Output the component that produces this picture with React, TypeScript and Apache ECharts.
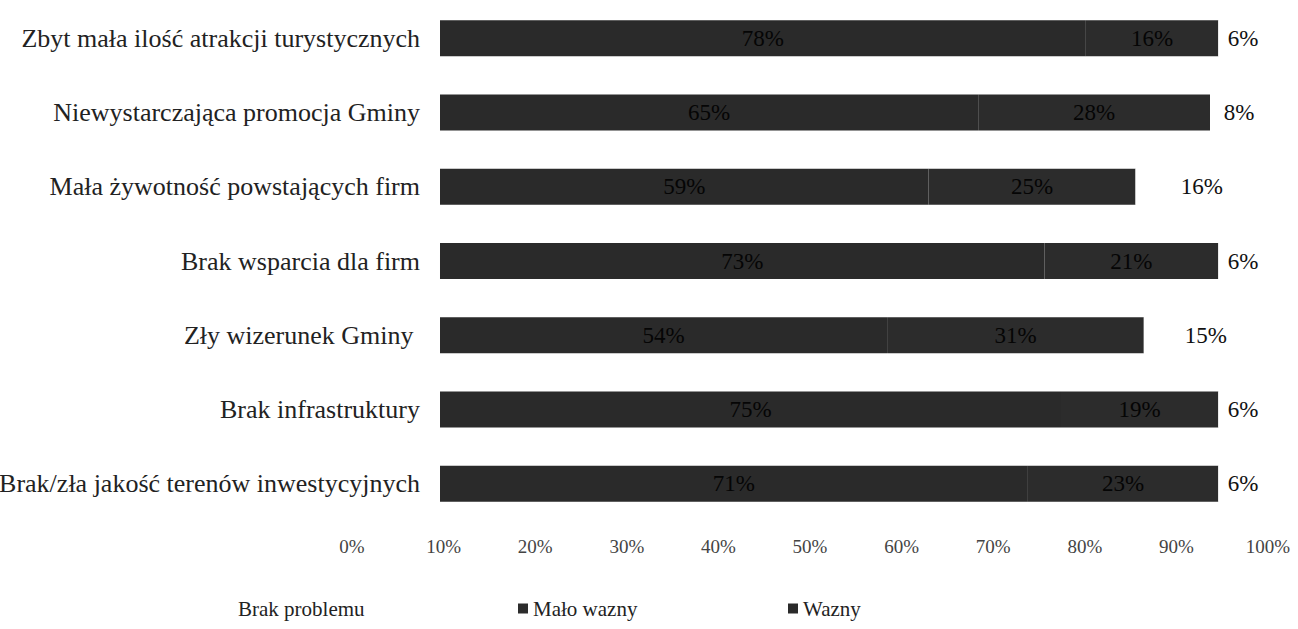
import React, { useEffect, useRef } from "react";
import * as echarts from "echarts";

const categories = [
  "Zbyt mała ilość atrakcji turystycznych",
  "Niewystarczająca promocja Gminy",
  "Mała żywotność powstających firm",
  "Brak wsparcia dla firm",
  "Zły wizerunek Gminy ",
  "Brak infrastruktury",
  "Brak/zła jakość terenów inwestycyjnych",
];
const wazny = [78, 65, 59, 73, 54, 75, 71];
const maloWazny = [16, 28, 25, 21, 31, 19, 23];
const brakProblemu = [6, 8, 16, 6, 15, 6, 6];
const seriesNames = ["Wazny", "Mało wazny", "Brak problemu"];

const FONT = "'Liberation Serif', 'Times New Roman', serif";

export default function App() {
  const ref = useRef<HTMLDivElement>(null);
  useEffect(() => {
    document.body.style.margin = "0";
    const chart = echarts.init(ref.current!, null, { renderer: "svg" });
    const label = (color: string) => ({
      show: true,
      position: "inside",
      formatter: "{c}%",
      color,
      textBorderWidth: 0,
      textShadowBlur: 0,
      fontFamily: FONT,
      fontSize: 23,
    });
    const legendBase = {
      icon: "rect",
      itemWidth: 10,
      itemHeight: 10,
      itemGap: 5,
      top: 593,
      textStyle: { fontFamily: FONT, fontSize: 21, color: "#222" },
      selectedMode: false,
    };
    chart.setOption({
      animation: false,
      backgroundColor: "#ffffff",
      grid: [
        { left: 440, right: 30, top: 1, height: 520, containLabel: false, outerBoundsMode: "none" },
        { left: 352, right: 30, top: 528, height: 1, containLabel: false, outerBoundsMode: "none" },
      ],
      xAxis: [
        { gridIndex: 0, type: "value", min: 0, max: 100, show: false },
        {
          gridIndex: 1,
          type: "value",
          min: 0,
          max: 100,
          interval: 10,
          axisLine: { show: false },
          axisTick: { show: false },
          splitLine: { show: false },
          axisLabel: {
            formatter: "{value}%",
            margin: 8,
            fontFamily: FONT,
            fontSize: 19,
            color: "#444",
          },
        },
      ],
      yAxis: [
        {
          gridIndex: 0,
          type: "category",
          data: categories,
          inverse: true,
          axisLine: { show: false },
          axisTick: { show: false },
          axisLabel: {
            margin: 20,
            fontFamily: FONT,
            fontSize: 26,
            color: "#222",
          },
        },
        { gridIndex: 1, type: "value", show: false },
      ],
      legend: [
        { ...legendBase, left: 218, data: [seriesNames[2]] },
        { ...legendBase, left: 513, data: [seriesNames[1]] },
        { ...legendBase, left: 783, data: [seriesNames[0]] },
      ],
      series: [
        {
          name: seriesNames[0],
          type: "bar",
          stack: "total",
          barWidth: 36,
          data: wazny,
          itemStyle: { color: "#2a2a2a" },
          label: label("#050505"),
        },
        {
          name: seriesNames[1],
          type: "bar",
          stack: "total",
          barWidth: 36,
          data: maloWazny,
          itemStyle: { color: "#2c2c2c" },
          label: label("#050505"),
        },
        {
          name: seriesNames[2],
          type: "bar",
          stack: "total",
          barWidth: 36,
          data: brakProblemu,
          itemStyle: { color: "#ffffff" },
          label: label("#111111"),
        },
      ],
    });
    return () => chart.dispose();
  }, []);
  return <div ref={ref} style={{ width: 1298, height: 629 }} />;
}
